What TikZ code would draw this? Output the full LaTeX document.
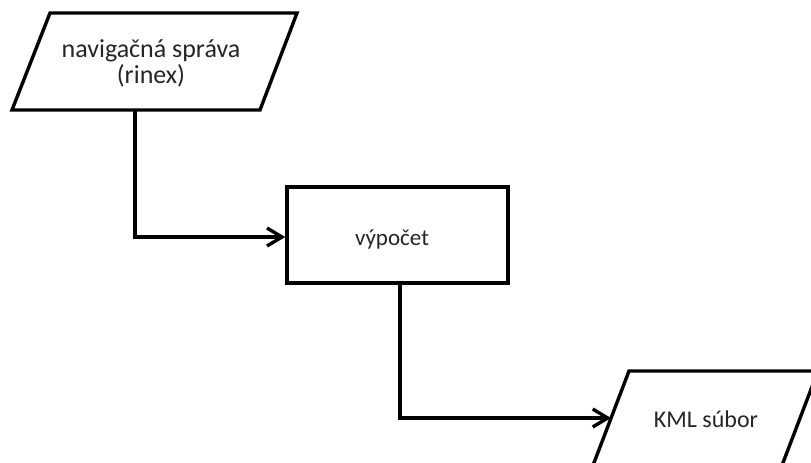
\documentclass[tikz,border=0pt]{standalone}
\usepackage{fontspec}
\setmainfont{Carlito}
\usetikzlibrary{arrows.meta}
\begin{document}
\begin{tikzpicture}[x=1pt,y=-1pt,
  shapeline/.style={line width=3.4pt, line join=miter},
  conn/.style={line width=3.4pt, -{Straight Barb[length=15pt,width=18pt,line width=3.4pt]}},
  lbl/.style={inner sep=0pt, anchor=base, text=black!85}]
\useasboundingbox (0,0) rectangle (811,463);
\fill[white] (0,0) rectangle (811,463);
\clip (0,0) rectangle (811,463);
% input parallelogram
\draw[shapeline] (50,13) -- (297,13) -- (260,110) -- (12,110) -- cycle;
\coordinate (inbot) at (135,110);
\node[lbl, font=\fontsize{26}{26}\selectfont] (in1) at (151,57) {navigačná správa};
\node[lbl, font=\fontsize{26}{26}\selectfont] (in2) at (151,83) {(rinex)};
% process box
\node[draw, shapeline, minimum width=221pt, minimum height=96pt, inner sep=0pt] (proc) at (397.5,235) {};
\node[lbl, font=\fontsize{23}{23}\selectfont] (proctext) at (392,245) {výpočet};
% output parallelogram
\draw[shapeline] (629,371) -- (818,371) -- (781,468) -- (592,468) -- cycle;
\coordinate (outleft) at (611,418);
\node[lbl, font=\fontsize{24}{24}\selectfont] (out) at (706,427) {KML súbor};
% connectors
\draw[conn] (inbot) |- (proc.west |- 0,237);
\coordinate (procbot) at (400,283);
\draw[conn] (proc.south -| procbot) |- (outleft);
\end{tikzpicture}
\end{document}
